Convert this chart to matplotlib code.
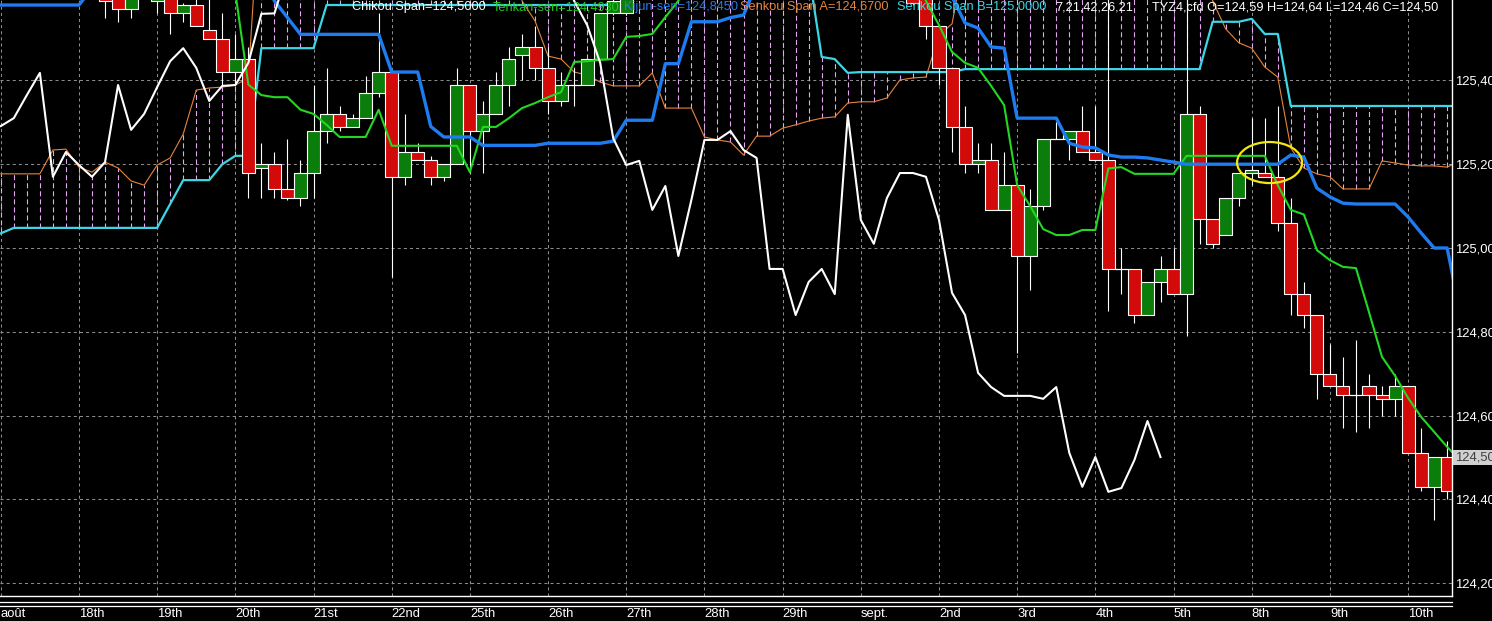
import matplotlib
matplotlib.use('Agg')
import matplotlib.pyplot as plt
from matplotlib.patches import Rectangle, Ellipse
from matplotlib.lines import Line2D

plt.rcParams['lines.scale_dashes'] = False
plt.rcParams['font.family'] = ['Liberation Sans', 'DejaVu Sans']

# ---------------- data (4-hour bars, index 0..111; None = bar off the top of the chart) -------------
opens = ([None] * 8 +
         [125.63, 125.60, 125.57, None, 125.59, 125.61, 125.56, 125.58, 125.52, 125.50,
          125.42, 125.45, 125.19, 125.20, 125.14, 125.12, 125.18, 125.28, 125.32, 125.29,
          125.31, 125.37, 125.42, 125.17, 125.23, 125.21, 125.17, 125.20, 125.39, 125.28,
          125.32, 125.39, 125.46, 125.48, 125.43, 125.35, 125.39, 125.39, 125.45, 125.56,
          125.56] +
         [None] * 21 +
         [125.62, 125.60, 125.53, 125.43, 125.29, 125.20, 125.21, 125.09, 125.15, 124.98,
          125.10, 125.26, 125.26, 125.28, 125.23, 125.21, 124.95, 124.95, 124.84, 124.92,
          124.95, 124.89, 125.32, 125.07, 125.03, 125.12, 125.18, 125.18, 125.17, 125.06,
          124.89, 124.84, 124.70, 124.67, 124.65, 124.67, 124.65, 124.64, 124.67, 124.51,
          124.43, 124.50])
highs = ([None] * 8 +
         [125.66, 125.61, 125.62, None, 125.63, 125.62, 125.585, 125.60, 125.60, 125.56,
          125.51, 125.48, 125.25, 125.23, 125.26, 125.21, 125.39, 125.43, 125.34, 125.32,
          125.41, 125.56, 125.42, 125.32, 125.25, 125.22, 125.20, 125.43, 125.39, 125.35,
          125.42, 125.48, 125.51, 125.53, 125.48, 125.42, 125.43, 125.45, 125.56, 125.60,
          125.63] +
         [None] * 21 +
         [125.63, 125.61, 125.53, 125.43, 125.34, 125.25, 125.25, 125.23, 125.15, 125.14,
          125.26, 125.30, 125.28, 125.34, 125.34, 125.62, 125.00, 124.95, 124.92, 124.98,
          125.00, 125.62, 125.34, 125.07, 125.12, 125.18, 125.31, 125.31, 125.34, 125.12,
          124.92, 124.84, 124.77, 124.74, 124.78, 124.70, 124.67, 124.70, 124.67, 124.57,
          124.50, 124.54])
lows = ([None] * 8 +
        [125.55, 125.54, 125.55, None, 125.56, 125.51, 125.54, 125.53, 125.50, 125.39,
         125.39, 125.12, 125.12, 125.12, 125.115, 125.10, 125.12, 125.25, 125.28, 125.29,
         125.31, 125.36, 124.93, 125.15, 125.21, 125.15, 125.16, 125.20, 125.18, 125.18,
         125.32, 125.34, 125.40, 125.40, 125.32, 125.34, 125.34, 125.39, 125.45, 125.555,
         125.555] +
        [None] * 21 +
        [125.58, 125.50, 125.39, 125.23, 125.18, 125.18, 125.09, 125.09, 124.75, 124.90,
         125.09, 125.26, 125.21, 125.23, 125.21, 124.85, 124.89, 124.82, 124.84, 124.87,
         124.89, 124.79, 125.01, 125.00, 125.03, 125.10, 125.15, 125.17, 125.04, 124.84,
         124.81, 124.64, 124.67, 124.57, 124.56, 124.57, 124.60, 124.60, 124.51, 124.42,
         124.35, 124.40])
closes = ([None] * 8 +
          [125.59, 125.57, 125.61, None, 125.62, 125.56, 125.58, 125.53, 125.50, 125.42,
           125.45, 125.18, 125.20, 125.14, 125.12, 125.18, 125.28, 125.32, 125.29, 125.31,
           125.37, 125.42, 125.17, 125.23, 125.21, 125.17, 125.20, 125.39, 125.28, 125.32,
           125.39, 125.45, 125.48, 125.43, 125.35, 125.39, 125.39, 125.45, 125.56, 125.59,
           125.62] +
          [None] * 21 +
          [125.585, 125.53, 125.43, 125.29, 125.20, 125.21, 125.09, 125.15, 124.98, 125.10,
           125.26, 125.26, 125.28, 125.23, 125.21, 124.95, 124.95, 124.84, 124.92, 124.95,
           124.89, 125.32, 125.07, 125.01, 125.12, 125.18, 125.185, 125.17, 125.06, 124.89,
           124.84, 124.70, 124.67, 124.65, 124.65, 124.65, 124.64, 124.67, 124.51, 124.43,
           124.50, 124.42])

# Ichimoku lines (index 0..112); values above 125.59 are off the top of the chart
tenkan = ([125.66] * 18 + [125.61] +
          [125.39, 125.365, 125.36, 125.36, 125.33, 125.32, 125.294] + [125.265] * 3 + [125.33] +
          [125.244] * 6 + [125.181] + [125.289] * 2 +
          [125.31, 125.334, 125.346, 125.36, 125.372, 125.444, 125.446, 125.449, 125.451,
           125.504, 125.506, 125.511, 125.551, 125.59] +
          [125.66] * 18 +
          [125.59, 125.532, 125.468, 125.442, 125.43, 125.387, 125.341, 125.15, 125.10, 125.045] +
          [125.031] * 2 + [125.043] * 2 + [125.19, 125.193] + [125.177] * 4 + [125.22] * 7 +
          [125.15, 125.091, 125.08, 124.995, 124.971, 124.955, 124.952, 124.847, 124.74,
           124.695, 124.642, 124.597, 124.561, 124.525, 124.493])
kijun = ([125.58] * 7 + [125.62] + [125.66] * 13 + [125.59, 125.55] + [125.51] * 7 +
         [125.42] * 3 + [125.29] + [125.265] * 3 + [125.245] * 5 + [125.25] * 5 + [125.255] +
         [125.305] * 3 + [125.44] * 2 + [125.54] * 3 + [125.55, 125.556, 125.63] +
         [125.66] * 14 +
         [125.60, 125.537, 125.525, 125.48, 125.477] + [125.31] * 4 +
         [125.25, 125.241, 125.239, 125.222] + [125.217] * 2 + [125.215, 125.21, 125.205] +
         [125.20] * 8 + [125.222, 125.217, 125.143, 125.122, 125.107] + [125.105] * 4 +
         [125.074, 125.036] + [125.00] * 2 + [124.845])
chikou = ([125.291, 125.31, 125.365, 125.418, 125.17, 125.229, 125.198, 125.17, 125.205,
           125.389, 125.282, 125.32, 125.384, 125.446, 125.477, 125.43, 125.351, 125.387,
           125.389, 125.442, 125.559, 125.56] +
          [125.66] * 22 +
          [125.59, 125.532, 125.442, 125.262, 125.198, 125.208, 125.091, 125.148, 124.981,
           125.115, 125.258, 125.258, 125.279, 125.234, 125.215, 124.95, 124.95, 124.84,
           124.919, 124.95, 124.89, 125.318, 125.067, 125.01, 125.119, 125.179, 125.179,
           125.17, 125.067, 124.893, 124.84, 124.702, 124.668, 124.647, 124.647, 124.647,
           124.64, 124.668, 124.511, 124.43, 124.501, 124.418, 124.427, 124.494, 124.587,
           124.501])
senkou_a = ([125.177] * 4 +
            [125.234, 125.236, 125.193, 125.181, 125.205, 125.191, 125.16, 125.15, 125.198,
             125.215, 125.272, 125.377, 125.382, 125.384, 125.389, 125.406] +
            [125.90] * 20 +
            [125.59, 125.542, 125.458, 125.451, 125.42, 125.413, 125.396] + [125.387] * 3 +
            [125.418] + [125.334] * 3 + [125.265, 125.258, 125.253, 125.222] + [125.267] * 2 +
            [125.286, 125.294, 125.303, 125.31, 125.313, 125.346] + [125.349] * 2 +
            [125.358, 125.401, 125.406, 125.408, 125.508, 125.535] +
            [125.70] * 19 +
            [125.59, 125.523, 125.49, 125.477, 125.432, 125.408, 125.239, 125.191, 125.177,
             125.17] + [125.141] * 3 + [125.208, 125.203, 125.198] + [125.196] * 2 +
            [125.193, 125.208])
senkou_b = ([125.035] + [125.048] * 12 + [125.105] + [125.162] * 3 + [125.20] +
            [125.22] * 2 + [125.477] * 5 + [125.58] * 24 + [125.66] * 14 +
            [125.456, 125.451, 125.418] + [125.42] * 8 + [125.427] * 19 + [125.54] * 3 +
            [125.547] + [125.511] * 2 + [125.339] * 14)

day_ticks = [0, 6, 12, 18, 24, 30, 36, 42, 48, 54, 60, 66, 72, 78, 84, 90, 96, 102, 108]
day_labels = ['août', '18th', '19th', '20th', '21st', '22nd', '25th', '26th', '27th', '28th',
              '29th', 'sept.', '2nd', '3rd', '4th', '5th', '8th', '9th', '10th']
price_ticks = [124.2, 124.4, 124.6, 124.8, 125.0, 125.2, 125.4]
price_labels = ['124,20', '124,40', '124,60', '124,80', '125,00', '125,20', '125,40']
last_price = 124.50

legend_items = [
    ('Chikou Span=124,5000', '#ffffff', 352),
    ('Tenkan-sen=124,4930', '#22cc22', 493),
    ('Kijun-sen=124,8450', '#2a7ae8', 624),
    ('Senkou Span A=124,6700', '#e8843c', 740),
    ('Senkou Span B=125,0000', '#3cd6e6', 897),
    ('7,21,42,26,21', '#ffffff', 1055),
    ('TYZ4,cfd O=124,59 H=124,64 L=124,46 C=124,50', '#ffffff', 1152),
]

# ---------------- figure ----------------
W, Hh = 1492, 621
fig = plt.figure(figsize=(W / 100, Hh / 100), dpi=100, facecolor='black')
ax_bottom_px = 595.7
ax = fig.add_axes([0, (Hh - ax_bottom_px) / Hh, 1452 / W, ax_bottom_px / Hh])
ax.set_facecolor('black')
ax.set_xlim(-0.06, 111.37)
ax.set_ylim(124.170, 125.592)

# grid
grid_style = dict(color='#8c8c8c', lw=0.75, linestyle=(0, (2.2, 2.2)), zorder=1)
for t in day_ticks:
    ax.axvline(t, **grid_style)
for p in price_ticks:
    ax.axhline(p, **grid_style)

# cloud hatching (vertical dashed lines between Senkou A and B)
xs = list(range(len(senkou_a)))
ax.vlines(xs, [min(a, b) for a, b in zip(senkou_a, senkou_b)],
          [max(a, b) for a, b in zip(senkou_a, senkou_b)],
          colors='#e6a6f2', linewidth=0.8, linestyles=(0, (3.6, 2.2)), zorder=2)

# Senkou lines
ax.plot(xs, senkou_a, color='#e8843c', lw=0.8, zorder=3)
ax.plot(xs, senkou_b, color='#3cd6e6', lw=1.6, zorder=3)

# candles
for k, (o, h, l, c) in enumerate(zip(opens, highs, lows, closes)):
    if o is None:
        continue
    ax.vlines(k, l, h, colors='white', lw=0.8, zorder=4)
    if abs(c - o) < 0.004:
        ax.hlines((o + c) / 2, k - 0.5, k + 0.5, colors='white', lw=0.9, zorder=5)
    else:
        col = '#0b7d0b' if c > o else '#d20a0a'
        ax.add_patch(Rectangle((k - 0.5, min(o, c)), 1.0, abs(c - o), facecolor=col,
                               edgecolor='white', lw=0.8, zorder=5))

# Tenkan / Kijun / Chikou
ax.plot(xs, tenkan, color='#22d822', lw=1.5, zorder=6)
ax.plot(xs, kijun, color='#1f7bf0', lw=2.4, zorder=6)
ax.plot(range(len(chikou)), chikou, color='white', lw=1.5, zorder=6)

# highlight ellipse
ax.add_patch(Ellipse((97.37, 125.204), 4.99, 0.098, fill=False, edgecolor='#f2e616',
                     lw=1.6, zorder=7))

# axes styling
for s in ['left', 'top']:
    ax.spines[s].set_visible(False)
for s in ['right', 'bottom']:
    ax.spines[s].set_color('white')
    ax.spines[s].set_linewidth(1.0)
    ax.spines[s].set_zorder(8)

ax.yaxis.tick_right()
ax.set_yticks(price_ticks)
ax.set_yticklabels(price_labels)
ax.tick_params(axis='y', length=0, pad=2.2, labelsize=9.4, labelcolor='white')
ax.set_xticks(day_ticks)
ax.set_xticklabels(day_labels)
ax.tick_params(axis='x', length=0, pad=8.6, labelsize=9.4, labelcolor='white')
for lab in ax.get_xticklabels():
    lab.set_horizontalalignment('left')

# last price box
ax.text(1.0 + 3 / 1452, last_price, '124,50', transform=ax.get_yaxis_transform(),
        ha='left', va='center', fontsize=9.4, color='#404040', clip_on=False, zorder=9,
        bbox=dict(boxstyle='square,pad=0.12', fc='#d0d0d0', ec='none'))

# double separator lines under the plot
for ypx in (602.3, 605.7):
    fig.add_artist(Line2D([0, 1452 / W], [1 - ypx / Hh] * 2, color='white', lw=0.9))

# legend line at top
for txt, col, xpx in legend_items:
    fig.text(xpx / W, 1 - 10.2 / Hh, txt, color=col, fontsize=9.2, ha='left',
             va='baseline', zorder=10)

fig.savefig('out.png', dpi=100, facecolor='black')
